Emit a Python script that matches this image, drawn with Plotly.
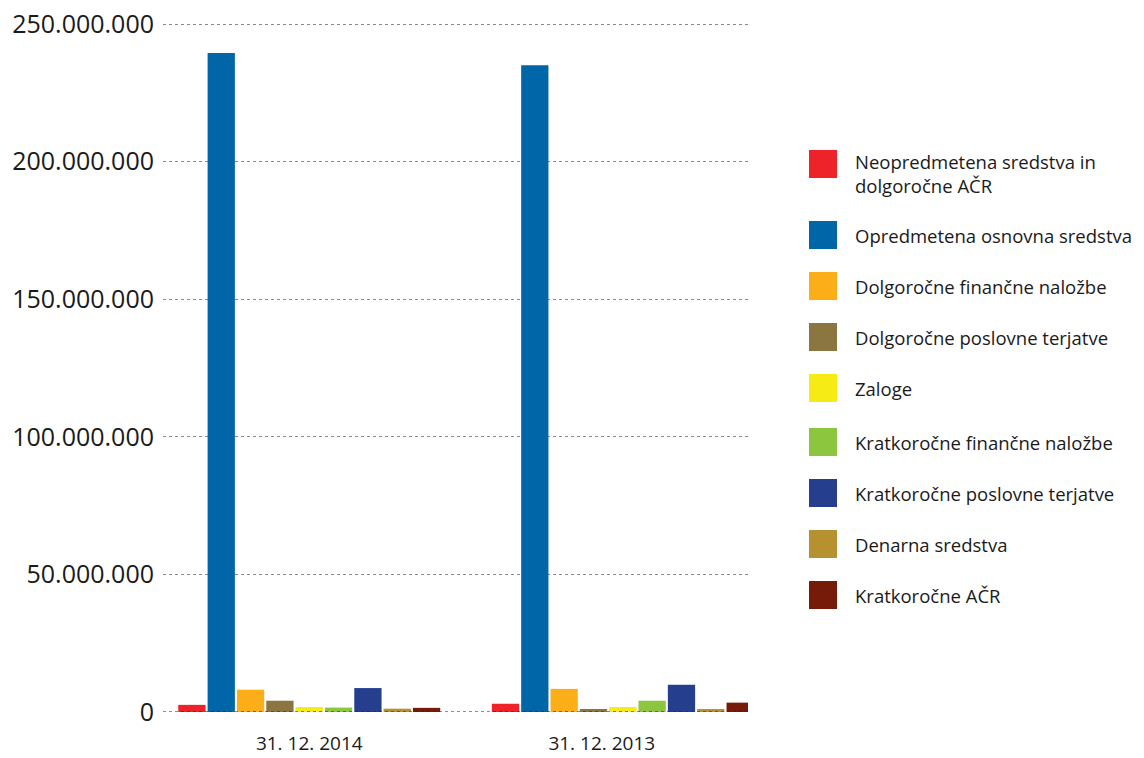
import plotly.graph_objects as go

categories = ["31. 12. 2014", "31. 12. 2013"]
series_names = [
    "Neopredmetena sredstva in<br>dolgoročne AČR",
    "Opredmetena osnovna sredstva",
    "Dolgoročne finančne naložbe",
    "Dolgoročne poslovne terjatve",
    "Zaloge",
    "Kratkoročne finančne naložbe",
    "Kratkoročne poslovne terjatve",
    "Denarna sredstva",
    "Kratkoročne AČR",
]
values_2014 = [2.6e6, 239.5e6, 8.1e6, 4.1e6, 1.8e6, 1.6e6, 8.7e6, 1.2e6, 1.5e6]
values_2013 = [3.0e6, 235.0e6, 8.4e6, 1.1e6, 1.8e6, 4.1e6, 9.9e6, 1.1e6, 3.4e6]
colors = ["#EE2229", "#0066A8", "#FBAE17", "#8B7541", "#F6EB14",
          "#8CC63F", "#253F8E", "#B5912F", "#761A0A"]
y_ticks = [0, 50e6, 100e6, 150e6, 200e6, 250e6]

OFF = 8  # page body margin
W, H = 1144 - OFF, 758 - OFF
L, T = 163 - OFF, 23 - OFF
R = W - (748 - OFF)
B = H - (712 - OFF)
# group centre positions on the numeric x axis (2013 group sits slightly right of its label)
group_pos = [0, 1.072]
tick_pos = [0, 1]

FONT = "Open Sans"
TXT = "#1a1a1a"

fig = go.Figure()
for i, name in enumerate(series_names):
    fig.add_trace(go.Bar(
        x=group_pos,
        y=[values_2014[i], values_2013[i]],
        name=name,
        marker=dict(color=colors[i], line=dict(width=0)),
        showlegend=False,
        hovertemplate="%{y:,.0f}<extra></extra>",
    ))

shapes = []
annotations = []

# dotted zero line
shapes.append(dict(type="line", xref="paper", yref="y", x0=0, x1=1, y0=0, y1=0,
                   line=dict(color="#222222", width=1.2, dash="dot"), layer="above"))

# custom legend (screen pixel -> paper coordinates)
pw, ph = W - L - R, H - T - B
def px(x):
    return (x - OFF - L) / pw
def py(y):
    return (H - B - (y - OFF)) / ph

legend_y = [164, 235, 286, 337, 388, 442, 493, 544, 595]
for i, name in enumerate(series_names):
    cy = legend_y[i]
    shapes.append(dict(type="rect", xref="paper", yref="paper",
                       x0=px(809), x1=px(837), y0=py(cy + 14), y1=py(cy - 14),
                       fillcolor=colors[i], line=dict(width=0)))
    ty = cy + 9 if i == 0 else cy
    annotations.append(dict(xref="paper", yref="paper", x=px(853), y=py(ty),
                            text=name, showarrow=False, xanchor="left", yanchor="middle",
                            align="left",
                            font=dict(family=FONT, size=18.5, color=TXT)))

fig.update_layout(
    width=W, height=H,
    margin=dict(l=L, r=R, t=T, b=B, autoexpand=False),
    paper_bgcolor="white", plot_bgcolor="white",
    separators=",.",
    barmode="group",
    bargap=0.158,
    bargroupgap=0.07,
    showlegend=False,
    font=dict(family=FONT, color=TXT),
    shapes=shapes,
    annotations=annotations,
    xaxis=dict(
        range=[-0.5, 1.5],
        tickmode="array", tickvals=tick_pos, ticktext=categories,
        showgrid=False, zeroline=False, showline=False,
        ticks="outside", ticklen=14, tickcolor="rgba(0,0,0,0)",
        tickfont=dict(family=FONT, size=19, color=TXT),
        fixedrange=True,
    ),
    yaxis=dict(
        range=[0, 250.4e6],
        tickmode="array", tickvals=y_ticks,
        tickformat=",d",
        showgrid=True, gridcolor="#8a8a8a", gridwidth=1, griddash="dot",
        zeroline=False, showline=False,
        ticks="outside", ticklen=3, tickcolor="rgba(0,0,0,0)",
        tickfont=dict(family=FONT, size=25, color=TXT),
        ticklabeloverflow="allow",
        fixedrange=True,
    ),
)

fig.write_html("out.html")
